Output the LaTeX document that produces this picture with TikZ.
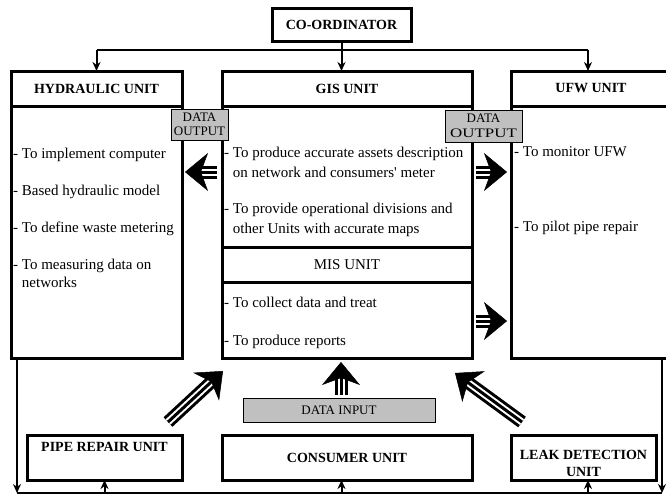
\documentclass[tikz,border=0pt]{standalone}
\usepackage{fontspec}
\setmainfont{Liberation Serif}
\usetikzlibrary{positioning,arrows.meta}

\definecolor{fillgrey}{RGB}{192,192,192}

\tikzset{
  unitbox/.style={draw, line width=3pt, inner sep=0pt, outer sep=0pt, font=\fontsize{14}{17}\selectfont\bfseries},
  plainbox/.style={draw, line width=3pt, inner sep=0pt, outer sep=0pt, font=\fontsize{15}{18}\selectfont},
  greybox/.style={draw, fill=fillgrey, line width=0.8pt, inner sep=0pt, align=center, font=\fontsize{13}{14.5}\selectfont},
  itemtext/.style={anchor=north west, inner sep=0pt, align=left},
  link/.style={line width=2pt, -{Stealth[length=9pt,width=8pt]}},
}

% triple shaft with a big head
\newcommand{\fatarrow}[2]{%
  \draw[line width=13pt, shorten >=14pt] (#1) -- (#2);
  \draw[white, line width=7pt, shorten >=14pt] (#1) -- (#2);
  \draw[line width=3pt, shorten >=14pt] (#1) -- (#2);
  \draw[line width=0.5pt, -{Stealth[length=23pt,width=38pt,inset=7pt]}] (#1) -- (#2);
}

\begin{document}
\begin{tikzpicture}[x=1pt, y=-1pt]
  \useasboundingbox (0,0) rectangle (666,496);
  \clip (0,0) rectangle (666,496);

  \node[unitbox, minimum width=139, minimum height=33] (coord) at (341.5,24.5) {CO-ORDINATOR};

  % top row of units
  \node[unitbox, minimum width=171, minimum height=35] (hydhead) at (96.5,88.5) {HYDRAULIC UNIT};
  \node[plainbox, minimum width=171, minimum height=252, below=0pt of hydhead] (hydbody) {};
  \node[unitbox, minimum width=250, minimum height=35] (gishead) at (347,88.5) {GIS UNIT};
  \node[plainbox, minimum width=250, minimum height=141, below=0pt of gishead] (gisbody) {};
  \node[plainbox, minimum width=250, minimum height=35, below=0pt of gisbody] (mishead) {MIS UNIT};
  \node[plainbox, minimum width=250, minimum height=76, below=0pt of mishead] (misbody) {};
  \node[unitbox, minimum width=160, minimum height=35] (ufwhead) at (591,88.5) {UFW UNIT};
  \node[plainbox, minimum width=160, minimum height=252, below=0pt of ufwhead] (ufwbody) {};

  % texts of the units
  \node[itemtext, font=\fontsize{15}{18}\selectfont] (hydtext) at (13,147.5)
    {- To implement computer\\[19pt]- Based hydraulic model\\[19pt]- To define waste metering\\[19pt]- To measuring data on\\\phantom{- }networks};
  \node[itemtext, font=\fontsize{15}{20}\selectfont] (gistext) at (224,146.5)
    {- To produce accurate assets description\\\phantom{- }on network and consumers\textquotesingle{} meter\\[16pt]- To provide operational divisions and\\\phantom{- }other Units with accurate maps};
  \node[itemtext, font=\fontsize{15}{20}\selectfont] (mistext) at (224,296.5)
    {- To collect data and treat\\[18pt]- To produce reports};
  \node[itemtext, font=\fontsize{15}{18}\selectfont] (ufwtext) at (514,146.5)
    {- To monitor UFW\\[57pt]- To pilot pipe repair};

  % bottom row of units
  \node[unitbox, minimum width=155, minimum height=45] (pipe) at (104.5,457.5) {};
  \node[unitbox, minimum width=250, minimum height=45] (consumer) at (347,457.5) {CONSUMER UNIT};
  \node[unitbox, minimum width=145, minimum height=45] (leak) at (583.5,457.5) {};
  \node[font=\fontsize{14}{17}\selectfont\bfseries, inner sep=0pt] (pipetext) at ([yshift=11pt]pipe.center) {PIPE REPAIR UNIT};
  \node[font=\fontsize{14}{17}\selectfont\bfseries, inner sep=0pt, align=center] (leaktext) at ([yshift=-6pt]leak.center) {LEAK DETECTION\\UNIT};

  % grey labels
  \node[greybox, minimum width=57, minimum height=31] (outleft) at (199.5,124.5) {DATA\\OUTPUT};
  \node[greybox, minimum width=77, minimum height=32] (outright) at (483.5,126) {DATA\\\scalebox{1.3}[1]{OUTPUT}};
  \node[greybox, minimum width=192, minimum height=24] (datain) at (339,410) {DATA INPUT};

  % connectors
  \coordinate (lcol) at (96.5,50);
  \coordinate (split) at (341.5,50);
  \coordinate (rcol) at (588,50);
  \draw[line width=2pt] (lcol) -- (rcol);
  \draw[link] (coord.south) -- (split |- gishead.north);
  \draw[link] (lcol) -- (hydhead.north);
  \draw[link] (rcol) -- (rcol |- ufwhead.north);

  \coordinate (bl) at (17,493);
  \coordinate (br) at (662,493);
  \draw[link] (hydbody.south -| bl) -- (bl);
  \draw[link] (ufwbody.south -| br) -- (br);
  \draw[line width=1.5pt] (bl) -- (br);
  \draw[link] (pipe.south |- bl) -- (pipe.south);
  \draw[link] (split |- bl) -- (split |- consumer.south);
  \draw[link] (rcol |- bl) -- (rcol |- leak.south);

  % fat arrows
  \coordinate (gisout) at (217,172);
  \coordinate (hydin) at (185,172);
  \coordinate (gisright) at (476,172);
  \coordinate (ufwin) at (507,172);
  \coordinate (misright) at (476,321);
  \coordinate (ufwin2) at (507,321);
  \coordinate (inputup) at (341,395);
  \coordinate (misin) at (341,362);
  \coordinate (pipeout) at (168,422);
  \coordinate (gisin1) at (223,371);
  \coordinate (leakout) at (522,422);
  \coordinate (gisin2) at (455,373);
  \fatarrow{gisout}{hydin}
  \fatarrow{gisright}{ufwin}
  \fatarrow{misright}{ufwin2}
  \fatarrow{inputup}{misin}
  \fatarrow{pipeout}{gisin1}
  \fatarrow{leakout}{gisin2}
\end{tikzpicture}
\end{document}
